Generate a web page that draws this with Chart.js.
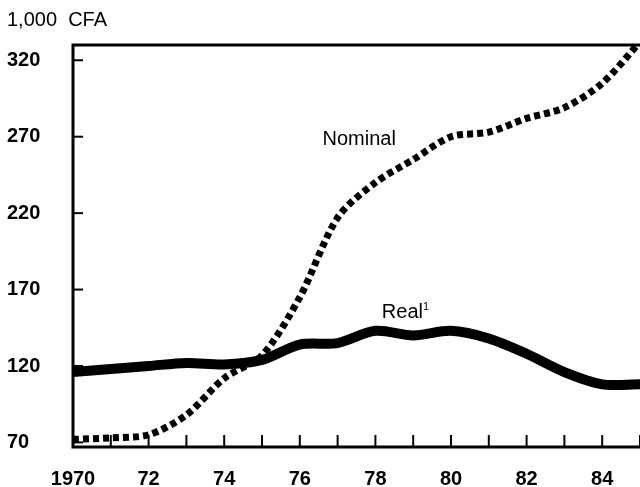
<!DOCTYPE html>
<html>
<head>
<meta charset="utf-8">
<script src="https://cdn.jsdelivr.net/npm/chart.js@4/dist/chart.umd.min.js"></script>
<style>
  html, body { margin: 0; padding: 0; background: #fff; }
  #wrap { width: 640px; height: 487px; }
</style>
</head>
<body>
<div id="wrap"><canvas id="cfaChart" width="640" height="487"></canvas></div>
<script>
// data (1,000 CFA)
const years = [1970, 1971, 1972, 1973, 1974, 1975, 1976, 1977, 1978, 1979, 1980, 1981, 1982, 1983, 1984, 1985];
const nominal = [72, 73, 75, 88, 112, 127, 165, 217, 240, 255, 270, 273, 282, 289, 305, 332];
const real = [116, 118, 120, 122, 121, 124, 134, 135, 143, 140, 143, 138, 128, 116, 108, 108];
const yTicks = [70, 120, 170, 220, 270, 320];

const FONT = "'Liberation Sans', Arial, sans-serif";

// frame, inner tick marks and text labels
const extras = {
  id: "extras",
  afterDraw(chart) {
    const c = chart.ctx;
    const a = chart.chartArea;
    const xs = chart.scales.x;
    const ys = chart.scales.y;
    c.save();
    c.strokeStyle = "#000";
    c.lineWidth = 3;
    c.beginPath();
    c.moveTo(a.right, a.top);
    c.lineTo(a.left, a.top);
    c.lineTo(a.left, a.bottom);
    c.lineTo(a.right, a.bottom);
    c.stroke();

    c.lineWidth = 2;
    years.forEach(function (yr) {
      const px = xs.getPixelForValue(yr);
      c.beginPath();
      c.moveTo(px, a.bottom);
      c.lineTo(px, a.bottom - 12);
      c.stroke();
    });
    yTicks.forEach(function (v) {
      const py = ys.getPixelForValue(v);
      c.beginPath();
      c.moveTo(a.left, py);
      c.lineTo(a.left + 10, py);
      c.stroke();
    });

    c.fillStyle = "#000";
    c.textBaseline = "middle";
    c.textAlign = "left";
    c.font = "20px " + FONT;
    c.fillText("1,000  CFA", 7, 20);

    c.fillText("Nominal", xs.getPixelForValue(1976.6), ys.getPixelForValue(268));
    const rx = xs.getPixelForValue(1978.17);
    const ry = ys.getPixelForValue(155);
    c.fillText("Real", rx, ry);
    const w = c.measureText("Real").width;
    c.font = "11px " + FONT;
    c.fillText("1", rx + w, ry - 6);
    c.restore();
  },
};

const ctx = document.getElementById("cfaChart").getContext("2d");
const cfaChart = new Chart(ctx, {
  type: "line",
  data: {
    datasets: [
      {
        label: "Nominal",
        data: years.map((yr, i) => ({ x: yr, y: nominal[i] })),
        borderColor: "#000",
        borderWidth: 7,
        borderDash: [6, 4],
        borderCapStyle: "butt",
        pointRadius: 0,
        tension: 0.3,
        fill: false,
      },
      {
        label: "Real",
        data: years.map((yr, i) => ({ x: yr, y: real[i] })),
        borderColor: "#000",
        borderWidth: 10,
        pointRadius: 0,
        tension: 0.3,
        fill: false,
      },
    ],
  },
  options: {
    responsive: false,
    animation: false,
    layout: { padding: { top: 45, right: 0, left: 7, bottom: 0 } },
    plugins: { legend: { display: false }, tooltip: { enabled: false } },
    scales: {
      x: {
        type: "linear",
        min: 1970,
        max: 1985,
        afterBuildTicks(scale) {
          scale.ticks = years.map((v) => ({ value: v }));
        },
        afterFit(scale) {
          scale.height = 40;
          scale.paddingLeft = 0;
          scale.paddingRight = 0;
        },
        grid: { display: false, drawTicks: false },
        border: { display: false },
        ticks: {
          autoRotate: false,
          maxRotation: 0,
          autoSkip: false,
          padding: 20,
          color: "#000",
          font: { family: FONT, size: 20, weight: "bold" },
          callback: function (v) {
            if (v % 2 !== 0 || v === 1985) return "";
            return v === 1970 ? "1970" : String(v).slice(2);
          },
        },
      },
      y: {
        min: 67,
        max: 330,
        afterBuildTicks(scale) {
          scale.ticks = yTicks.map((v) => ({ value: v }));
        },
        afterFit(scale) {
          scale.width = 66;
          scale.paddingTop = 0;
          scale.paddingBottom = 0;
        },
        grid: { display: false, drawTicks: false },
        border: { display: false },
        ticks: {
          crossAlign: "far",
          padding: 0,
          color: "#000",
          font: { family: FONT, size: 20, weight: "bold" },
        },
      },
    },
  },
  plugins: [extras],
});
</script>
</body>
</html>
